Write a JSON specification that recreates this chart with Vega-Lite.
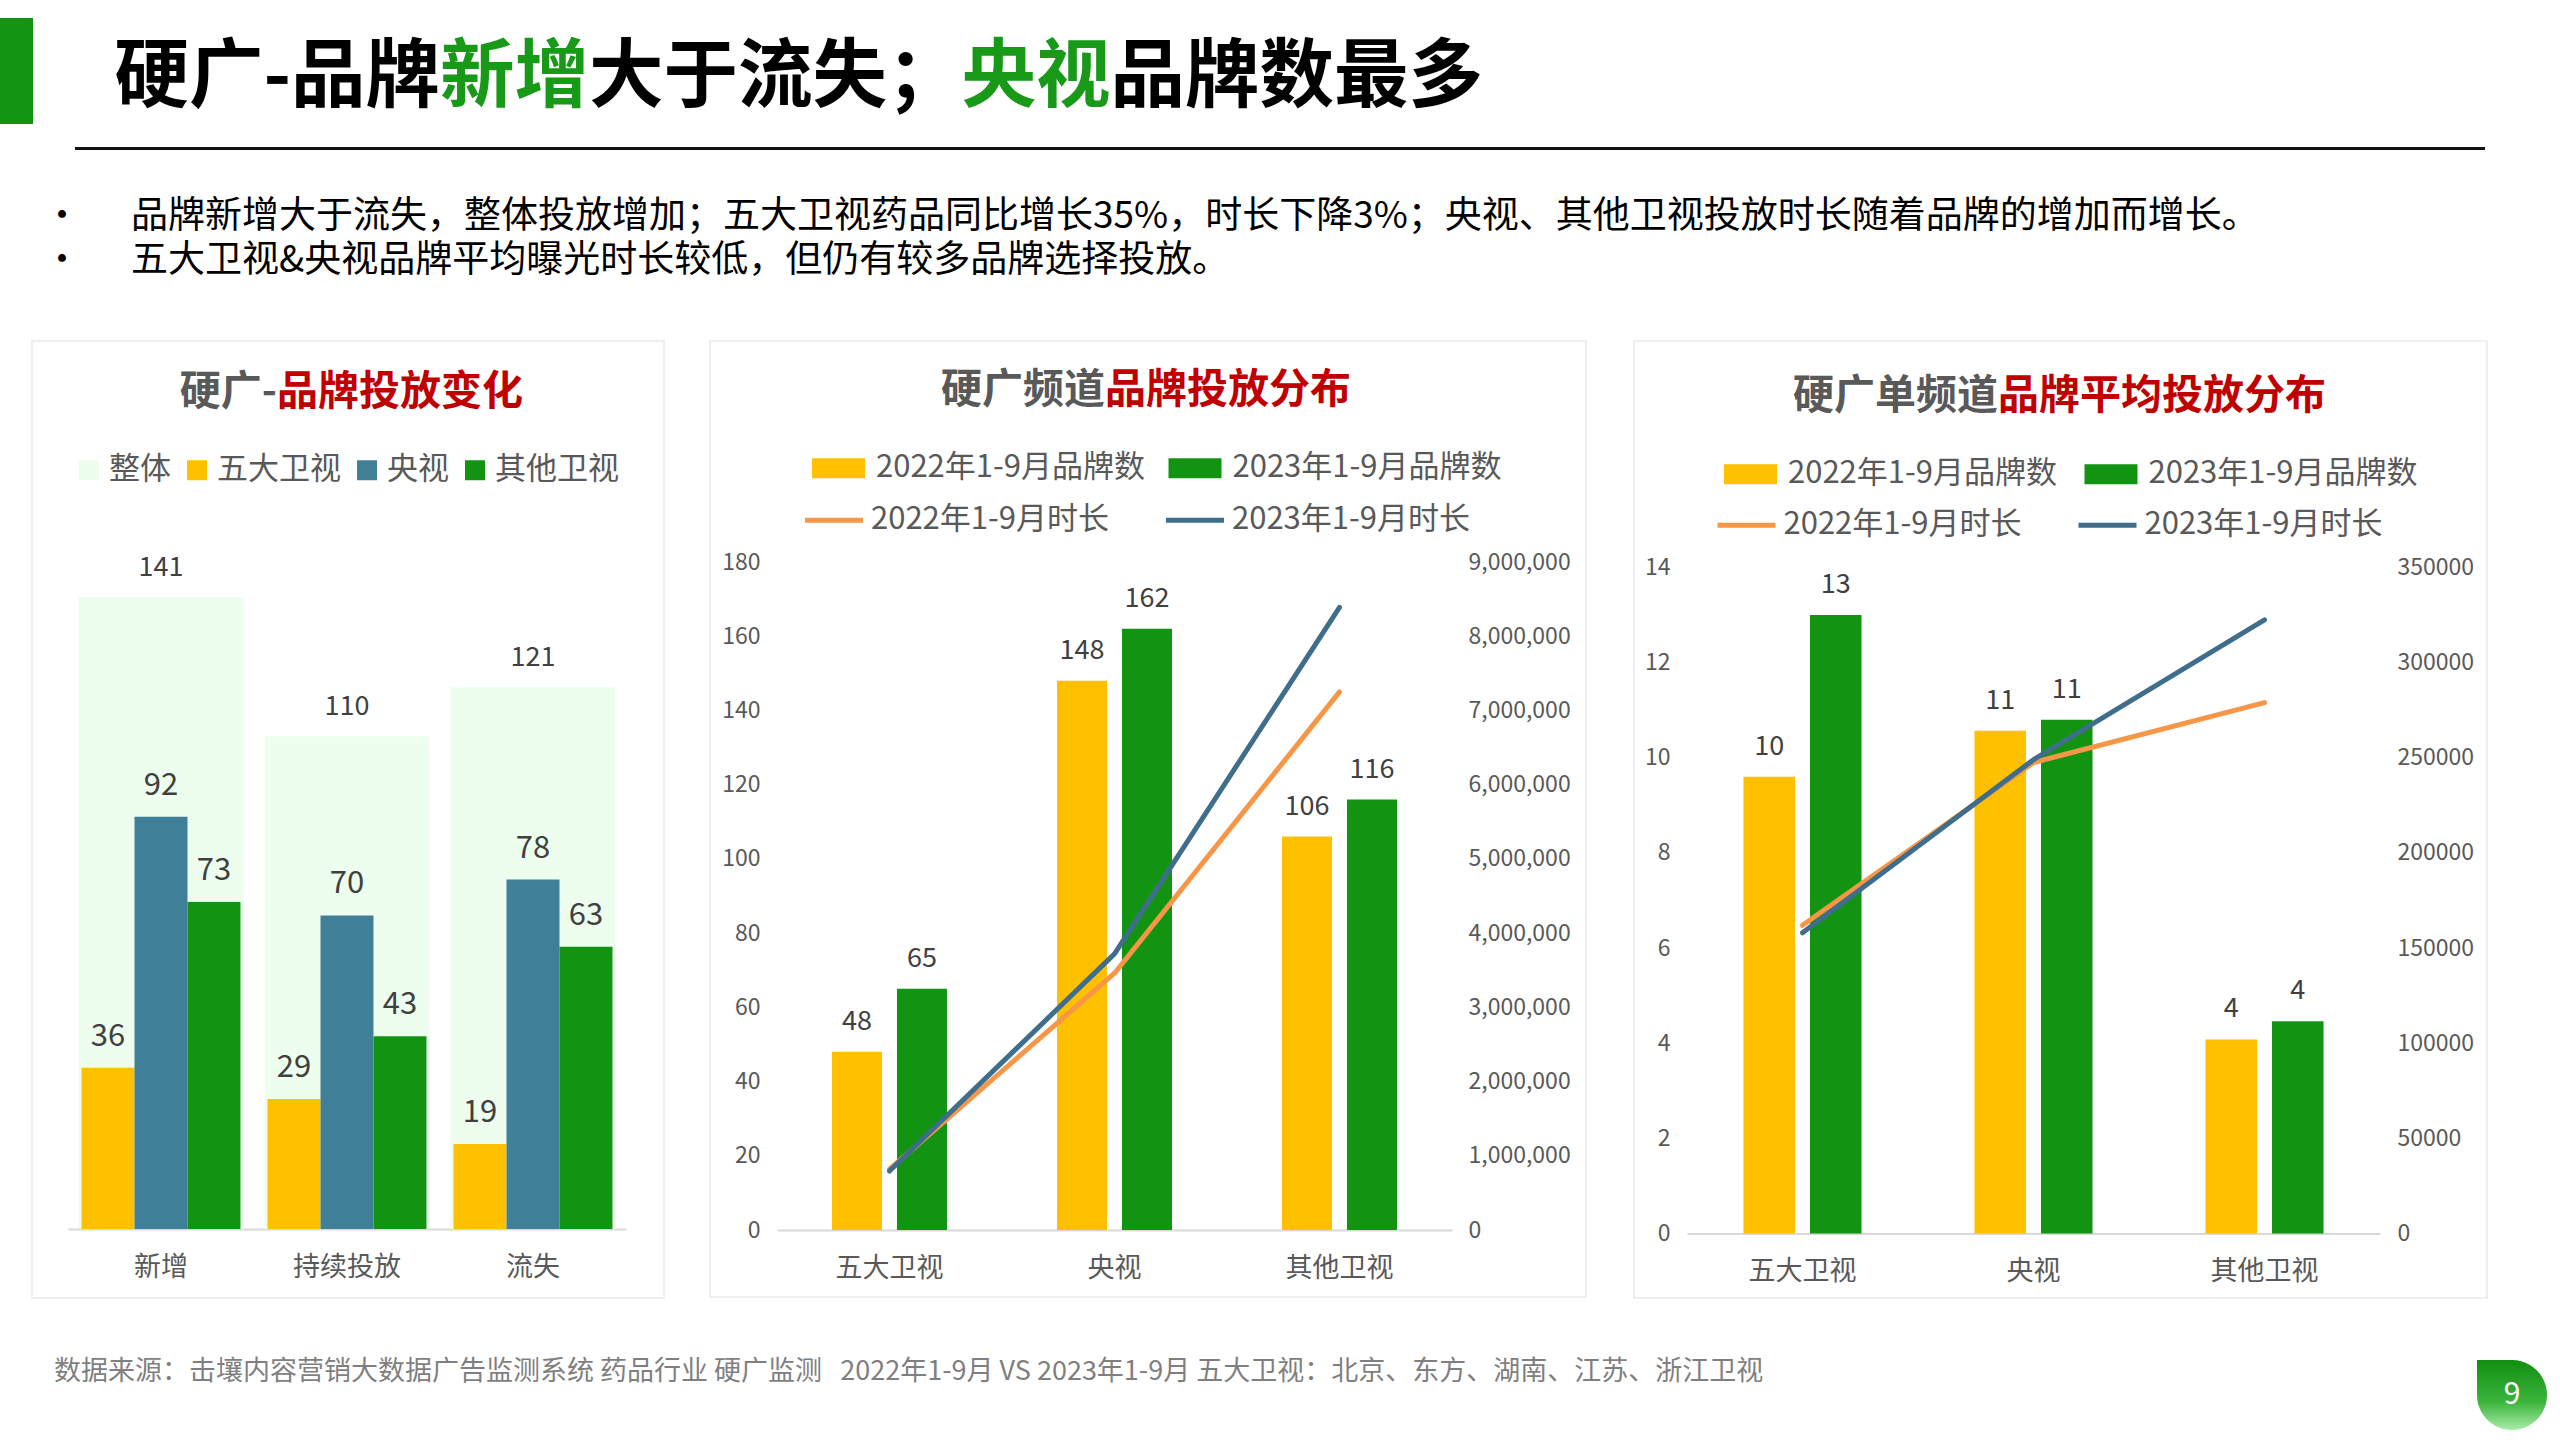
{
  "$schema": "https://vega.github.io/schema/vega-lite/v6.json",
  "background": "#FFFFFF",
  "padding": {"top": 18, "left": 0, "right": 0, "bottom": 0},
  "spacing": 0,
  "config": {
    "font": "Noto Sans CJK SC",
    "view": {"stroke": null},
    "axis": {"labelFont": "Noto Sans CJK SC", "labelColor": "#595959", "grid": false, "ticks": false, "tickSize": 0, "labelOverlap": false, "labelFlush": false},
    "legend": {"labelFont": "Noto Sans CJK SC", "labelColor": "#595959", "padding": 0, "labelLimit": 1000},
    "title": {"font": "Noto Sans CJK SC", "subtitleFont": "Noto Sans CJK SC"}
  },
  "datasets": {
    "p1": [
      {"type": "新增", "series": "整体", "value": 141},
      {"type": "新增", "series": "五大卫视", "value": 36},
      {"type": "新增", "series": "央视", "value": 92},
      {"type": "新增", "series": "其他卫视", "value": 73},
      {"type": "持续投放", "series": "整体", "value": 110},
      {"type": "持续投放", "series": "五大卫视", "value": 29},
      {"type": "持续投放", "series": "央视", "value": 70},
      {"type": "持续投放", "series": "其他卫视", "value": 43},
      {"type": "流失", "series": "整体", "value": 121},
      {"type": "流失", "series": "五大卫视", "value": 19},
      {"type": "流失", "series": "央视", "value": 78},
      {"type": "流失", "series": "其他卫视", "value": 63}
    ],
    "p2b": [
      {"channel": "五大卫视", "series": "2022年1-9月品牌数", "brands": 48},
      {"channel": "五大卫视", "series": "2023年1-9月品牌数", "brands": 65},
      {"channel": "央视", "series": "2022年1-9月品牌数", "brands": 148},
      {"channel": "央视", "series": "2023年1-9月品牌数", "brands": 162},
      {"channel": "其他卫视", "series": "2022年1-9月品牌数", "brands": 106},
      {"channel": "其他卫视", "series": "2023年1-9月品牌数", "brands": 116}
    ],
    "p2l": [
      {"channel": "五大卫视", "series": "2022年1-9月时长", "duration": 820000},
      {"channel": "央视", "series": "2022年1-9月时长", "duration": 3460000},
      {"channel": "其他卫视", "series": "2022年1-9月时长", "duration": 7250000},
      {"channel": "五大卫视", "series": "2023年1-9月时长", "duration": 795000},
      {"channel": "央视", "series": "2023年1-9月时长", "duration": 3720000},
      {"channel": "其他卫视", "series": "2023年1-9月时长", "duration": 8390000}
    ],
    "p3b": [
      {"channel": "五大卫视", "series": "2022年1-9月品牌数", "avg": 9.6},
      {"channel": "五大卫视", "series": "2023年1-9月品牌数", "avg": 13.0},
      {"channel": "央视", "series": "2022年1-9月品牌数", "avg": 10.57},
      {"channel": "央视", "series": "2023年1-9月品牌数", "avg": 10.8},
      {"channel": "其他卫视", "series": "2022年1-9月品牌数", "avg": 4.08},
      {"channel": "其他卫视", "series": "2023年1-9月品牌数", "avg": 4.46}
    ],
    "p3l": [
      {"channel": "五大卫视", "series": "2022年1-9月时长", "duration": 162000},
      {"channel": "央视", "series": "2022年1-9月时长", "duration": 247500},
      {"channel": "其他卫视", "series": "2022年1-9月时长", "duration": 279000},
      {"channel": "五大卫视", "series": "2023年1-9月时长", "duration": 158000},
      {"channel": "央视", "series": "2023年1-9月时长", "duration": 249000},
      {"channel": "其他卫视", "series": "2023年1-9月时长", "duration": 322500}
    ]
  },
  "vconcat": [
    {
      "width": 33, "height": 106,
      "view": {"fill": "#149414", "stroke": null},
      "data": {"values": []},
      "mark": "point",
      "encoding": {},
      "title": {
        "text": "硬广-品牌\u2003\u2003大于流失；\u2003\u2003品牌数最多",
        "subtitle": "新增\u2003\u2003\u2003\u2003\u2003央视\u2003\u2003\u2003\u2003\u2003\u200b",
        "anchor": "end", "frame": "group", "dx": 1450, "offset": -98,
        "fontSize": 74.5, "subtitleFontSize": 74.5, "fontWeight": "bold", "subtitleFontWeight": "bold",
        "color": "#000000", "subtitleColor": "#189A18", "subtitlePadding": -74.5
      }
    },
    {"width": 1, "height": 23, "data": {"values": []}, "mark": "point", "encoding": {}},
    {
      "spacing": 0,
      "hconcat": [
        {"width": 75, "height": 3, "data": {"values": []}, "mark": "point", "encoding": {}},
        {"width": 2410, "height": 3, "view": {"fill": "#111111", "stroke": null}, "data": {"values": []}, "mark": "point", "encoding": {}}
      ]
    },
    {
      "spacing": 0,
      "hconcat": [
        {
          "width": 124, "height": 190, "data": {"values": []}, "mark": "point", "encoding": {},
          "title": {"text": ["•", "•"], "anchor": "middle", "frame": "group", "offset": -130, "fontSize": 37, "lineHeight": 44, "fontWeight": "normal", "color": "#000000"}
        },
        {
          "width": 2436, "height": 190, "data": {"values": []}, "mark": "point", "encoding": {},
          "title": {
            "text": ["品牌新增大于流失，整体投放增加；五大卫视药品同比增长35%，时长下降3%；央视、其他卫视投放时长随着品牌的增加而增长。", "五大卫视&央视品牌平均曝光时长较低，但仍有较多品牌选择投放。"],
            "anchor": "start", "frame": "group", "dx": 7, "offset": -130, "fontSize": 37, "lineHeight": 44, "fontWeight": "normal", "color": "#000000"
          }
        }
      ]
    },
    {
      "spacing": 0,
      "resolve": {"scale": {"color": "independent", "stroke": "independent", "xOffset": "independent"}, "legend": {"color": "independent", "stroke": "independent"}},
      "hconcat": [
        {"width": 31, "height": 1, "data": {"values": []}, "mark": "point", "encoding": {}},
        {
          "width": 632, "height": 957,
          "view": {"stroke": "#EFEFEF", "strokeWidth": 2},
          "title": {
            "text": "硬广-\u3000\u3000\u3000\u3000\u3000\u3000\u200b", "subtitle": "品牌投放变化",
            "anchor": "end", "frame": "group", "dx": -141, "offset": -72.5,
            "fontSize": 41, "subtitleFontSize": 41, "fontWeight": "bold", "subtitleFontWeight": "bold",
            "color": "#595959", "subtitleColor": "#C00000", "subtitlePadding": -41
          },
          "data": {"name": "p1"},
          "layer": [
            {
              "transform": [{"filter": "datum.series === '整体'"}],
              "mark": {"type": "bar"},
              "encoding": {
                "x": {"field": "type", "type": "nominal", "sort": ["新增", "持续投放", "流失"],
                  "scale": {"range": [36, 594], "paddingInner": 0.113, "paddingOuter": 0.0565},
                  "axis": {"title": null, "orient": "bottom", "offset": -69, "domainColor": "#D9D9D9", "domainWidth": 2, "ticks": false, "tickSize": 0, "labelPadding": 25, "labelFontSize": 27, "labelColor": "#595959", "labelAngle": 0}},
                "y": {"field": "value", "type": "quantitative", "scale": {"domain": [0, 160], "range": [888, 171.2], "nice": false}, "axis": null},
                "color": {"field": "series", "type": "nominal",
                  "scale": {"domain": ["整体", "五大卫视", "央视", "其他卫视"], "range": ["#EEFEEE", "#FFC000", "#407F98", "#129412"]},
                  "legend": {"title": null, "orient": "none", "legendX": 41.5, "legendY": 113.5, "direction": "horizontal", "symbolType": "square", "symbolSize": 400, "symbolStrokeWidth": 0, "labelFontSize": 31, "labelColor": "#595959", "labelOffset": 4.5, "columnPadding": 10, "padding": 0}}
              }
            },
            {
              "transform": [{"filter": "datum.series !== '整体'"}],
              "mark": {"type": "bar"},
              "encoding": {
                "x": {"field": "type", "type": "nominal", "sort": ["新增", "持续投放", "流失"]},
                "xOffset": {"field": "series", "type": "nominal", "sort": ["五大卫视", "央视", "其他卫视"], "scale": {"paddingInner": 0, "paddingOuter": 0.057}},
                "y": {"field": "value", "type": "quantitative"},
                "color": {"field": "series", "type": "nominal"}
              }
            },
            {
              "transform": [{"filter": "datum.series === '整体'"}],
              "mark": {"type": "text", "baseline": "middle", "dy": -29, "fontSize": 27, "color": "#404040"},
              "encoding": {
                "x": {"field": "type", "type": "nominal", "sort": ["新增", "持续投放", "流失"]},
                "y": {"field": "value", "type": "quantitative"},
                "text": {"field": "value", "type": "quantitative"}
              }
            },
            {
              "transform": [{"filter": "datum.series !== '整体'"}],
              "mark": {"type": "text", "baseline": "middle", "dy": -31, "fontSize": 31, "color": "#404040"},
              "encoding": {
                "x": {"field": "type", "type": "nominal", "sort": ["新增", "持续投放", "流失"]},
                "xOffset": {"field": "series", "type": "nominal", "sort": ["五大卫视", "央视", "其他卫视"]},
                "y": {"field": "value", "type": "quantitative"},
                "text": {"field": "value", "type": "quantitative"}
              }
            }
          ]
        },
        {"width": 44, "height": 1, "data": {"values": []}, "mark": "point", "encoding": {}},
        {
          "width": 876, "height": 956,
          "view": {"stroke": "#EFEFEF", "strokeWidth": 2},
          "title": {
            "text": "硬广频道\u3000\u3000\u3000\u3000\u3000\u3000\u200b", "subtitle": "品牌投放分布",
            "anchor": "end", "frame": "group", "dx": -235, "offset": -71,
            "fontSize": 41, "subtitleFontSize": 41, "fontWeight": "bold", "subtitleFontWeight": "bold",
            "color": "#595959", "subtitleColor": "#C00000", "subtitlePadding": -41
          },
          "layer": [
            {
              "data": {"name": "p2b"},
              "mark": {"type": "bar"},
              "encoding": {
                "x": {"field": "channel", "type": "nominal", "sort": ["五大卫视", "央视", "其他卫视"],
                  "scale": {"range": [67, 742], "paddingInner": 0.489, "paddingOuter": 0.2445},
                  "axis": {"title": null, "orient": "bottom", "offset": -67, "domainColor": "#D9D9D9", "domainWidth": 2, "ticks": false, "tickSize": 0, "labelPadding": 25, "labelFontSize": 27, "labelColor": "#595959", "labelAngle": 0}},
                "xOffset": {"field": "series", "type": "nominal", "sort": ["2022年1-9月品牌数", "2023年1-9月品牌数"], "scale": {"paddingInner": 0.23, "paddingOuter": 0}},
                "y": {"field": "brands", "type": "quantitative", "scale": {"domain": [0, 180], "range": [889, 221], "nice": false},
                  "axis": {"title": null, "orient": "left", "offset": -50, "labelPadding": 0, "domain": false, "ticks": false, "grid": false, "values": [0, 20, 40, 60, 80, 100, 120, 140, 160, 180], "labelFontSize": 23, "labelColor": "#595959"}},
                "color": {"field": "series", "type": "nominal",
                  "scale": {"domain": ["2022年1-9月品牌数", "2023年1-9月品牌数"], "range": ["#FFC000", "#129412"]},
                  "legend": {"title": null, "orient": "none", "legendX": 102, "legendY": 100.5, "direction": "horizontal", "symbolType": "M-1,-0.377H1V0.377H-1Z", "symbolSize": 2809, "symbolStrokeWidth": 0, "labelFontSize": 31, "labelColor": "#595959", "labelOffset": 11, "columnPadding": 23.5, "padding": 0}}
              }
            },
            {
              "data": {"name": "p2b"},
              "mark": {"type": "text", "baseline": "middle", "dy": -30, "fontSize": 27, "color": "#404040"},
              "encoding": {
                "x": {"field": "channel", "type": "nominal", "sort": ["五大卫视", "央视", "其他卫视"]},
                "xOffset": {"field": "series", "type": "nominal", "sort": ["2022年1-9月品牌数", "2023年1-9月品牌数"]},
                "y": {"field": "brands", "type": "quantitative", "scale": {"domain": [0, 180], "range": [889, 221], "nice": false}, "axis": null},
                "text": {"field": "brands", "type": "quantitative"}
              }
            },
            {
              "data": {"name": "p2l"},
              "mark": {"type": "line", "strokeWidth": 5, "strokeCap": "round", "strokeJoin": "round"},
              "encoding": {
                "x": {"field": "channel", "type": "nominal", "sort": ["五大卫视", "央视", "其他卫视"]},
                "y": {"field": "duration", "type": "quantitative", "scale": {"domain": [0, 9000000], "range": [889, 221], "nice": false},
                  "axis": {"title": null, "orient": "right", "offset": -118, "labelPadding": 0, "domain": false, "ticks": false, "grid": false, "format": ",d", "values": [0, 1000000, 2000000, 3000000, 4000000, 5000000, 6000000, 7000000, 8000000, 9000000], "labelFontSize": 23, "labelColor": "#595959"}},
                "stroke": {"field": "series", "type": "nominal",
                  "scale": {"domain": ["2022年1-9月时长", "2023年1-9月时长"], "range": ["#F79646", "#3E6E8C"]},
                  "legend": {"title": null, "orient": "none", "legendX": 92.5, "legendY": 147.5, "direction": "horizontal", "symbolType": "stroke", "symbolSize": 3364, "symbolStrokeWidth": 5, "labelFontSize": 31, "labelColor": "#595959", "labelOffset": 5.5, "columnPadding": 46, "padding": 0}}
              }
            }
          ],
          "resolve": {"scale": {"y": "independent"}}
        },
        {"width": 46, "height": 1, "data": {"values": []}, "mark": "point", "encoding": {}},
        {
          "width": 853, "height": 957,
          "view": {"stroke": "#EFEFEF", "strokeWidth": 2},
          "title": {
            "text": "硬广单频道\u3000\u3000\u3000\u3000\u3000\u3000\u3000\u3000\u200b", "subtitle": "品牌平均投放分布",
            "anchor": "end", "frame": "group", "dx": -161, "offset": -77.3,
            "fontSize": 41, "subtitleFontSize": 41, "fontWeight": "bold", "subtitleFontWeight": "bold",
            "color": "#595959", "subtitleColor": "#C00000", "subtitlePadding": -41
          },
          "layer": [
            {
              "data": {"name": "p3b"},
              "mark": {"type": "bar"},
              "encoding": {
                "x": {"field": "channel", "type": "nominal", "sort": ["五大卫视", "央视", "其他卫视"],
                  "scale": {"range": [53, 746], "paddingInner": 0.489, "paddingOuter": 0.2445},
                  "axis": {"title": null, "orient": "bottom", "offset": -64.5, "domainColor": "#D9D9D9", "domainWidth": 2, "ticks": false, "tickSize": 0, "labelPadding": 25, "labelFontSize": 27, "labelColor": "#595959", "labelAngle": 0}},
                "xOffset": {"field": "series", "type": "nominal", "sort": ["2022年1-9月品牌数", "2023年1-9月品牌数"], "scale": {"paddingInner": 0.2256, "paddingOuter": 0}},
                "y": {"field": "avg", "type": "quantitative", "scale": {"domain": [0, 14], "range": [892.5, 226.5], "nice": false},
                  "axis": {"title": null, "orient": "left", "offset": -36, "labelPadding": 0, "domain": false, "ticks": false, "grid": false, "values": [0, 2, 4, 6, 8, 10, 12, 14], "labelFontSize": 23, "labelColor": "#595959"}},
                "color": {"field": "series", "type": "nominal",
                  "scale": {"domain": ["2022年1-9月品牌数", "2023年1-9月品牌数"], "range": ["#FFC000", "#129412"]},
                  "legend": {"title": null, "orient": "none", "legendX": 90, "legendY": 106.5, "direction": "horizontal", "symbolType": "M-1,-0.377H1V0.377H-1Z", "symbolSize": 2809, "symbolStrokeWidth": 0, "labelFontSize": 31, "labelColor": "#595959", "labelOffset": 11, "columnPadding": 27.5, "padding": 0}}
              }
            },
            {
              "data": {"name": "p3b"},
              "mark": {"type": "text", "baseline": "middle", "dy": -30, "fontSize": 27, "color": "#404040"},
              "encoding": {
                "x": {"field": "channel", "type": "nominal", "sort": ["五大卫视", "央视", "其他卫视"]},
                "xOffset": {"field": "series", "type": "nominal", "sort": ["2022年1-9月品牌数", "2023年1-9月品牌数"]},
                "y": {"field": "avg", "type": "quantitative", "scale": {"domain": [0, 14], "range": [892.5, 226.5], "nice": false}, "axis": null},
                "text": {"field": "avg", "type": "quantitative", "format": ".0f"}
              }
            },
            {
              "data": {"name": "p3l"},
              "mark": {"type": "line", "strokeWidth": 5, "strokeCap": "round", "strokeJoin": "round"},
              "encoding": {
                "x": {"field": "channel", "type": "nominal", "sort": ["五大卫视", "央视", "其他卫视"]},
                "y": {"field": "duration", "type": "quantitative", "scale": {"domain": [0, 350000], "range": [892.5, 226.5], "nice": false},
                  "axis": {"title": null, "orient": "right", "offset": -90, "labelPadding": 0, "domain": false, "ticks": false, "grid": false, "format": "d", "values": [0, 50000, 100000, 150000, 200000, 250000, 300000, 350000], "labelFontSize": 23, "labelColor": "#595959"}},
                "stroke": {"field": "series", "type": "nominal",
                  "scale": {"domain": ["2022年1-9月时长", "2023年1-9月时长"], "range": ["#F79646", "#3E6E8C"]},
                  "legend": {"title": null, "orient": "none", "legendX": 81, "legendY": 152.5, "direction": "horizontal", "symbolType": "stroke", "symbolSize": 3364, "symbolStrokeWidth": 5, "labelFontSize": 31, "labelColor": "#595959", "labelOffset": 5.5, "columnPadding": 46, "padding": 0}}
              }
            }
          ],
          "resolve": {"scale": {"y": "independent"}}
        }
      ]
    },
    {"width": 1, "height": 55, "data": {"values": []}, "mark": "point", "encoding": {}},
    {
      "spacing": 0,
      "hconcat": [
        {
          "width": 2477, "height": 82, "data": {"values": []}, "mark": "point", "encoding": {},
          "title": {
            "text": "数据来源：击壤内容营销大数据广告监测系统 药品行业 硬广监测\u00a0\u00a0 2022年1-9月 VS 2023年1-9月 五大卫视：北京、东方、湖南、江苏、浙江卫视",
            "anchor": "start", "frame": "group", "dx": 54, "offset": -32, "fontSize": 27, "fontWeight": "normal", "color": "#7F7F7F"
          }
        },
        {
          "width": 70, "height": 82,
          "data": {"values": [{"page": "9"}]},
          "layer": [
            {
              "mark": {"type": "point", "shape": "M-1,-1L0,-1A1,1,0,0,1,1,0A1,1,0,0,1,0,1A1,1,0,0,1,-1,0Z", "size": 4900, "filled": true, "opacity": 1, "strokeWidth": 0,
                "fill": {"gradient": "linear", "x1": 0, "y1": 0, "x2": 0, "y2": 1, "stops": [{"offset": 0, "color": "#108F10"}, {"offset": 0.6, "color": "#3CB43C"}, {"offset": 1, "color": "#A8ECA8"}]}},
              "encoding": {}
            },
            {
              "mark": {"type": "text", "fontSize": 30, "color": "#FFFFFF", "baseline": "middle", "align": "center"},
              "encoding": {"text": {"field": "page", "type": "nominal"}}
            }
          ]
        }
      ]
    }
  ]
}
